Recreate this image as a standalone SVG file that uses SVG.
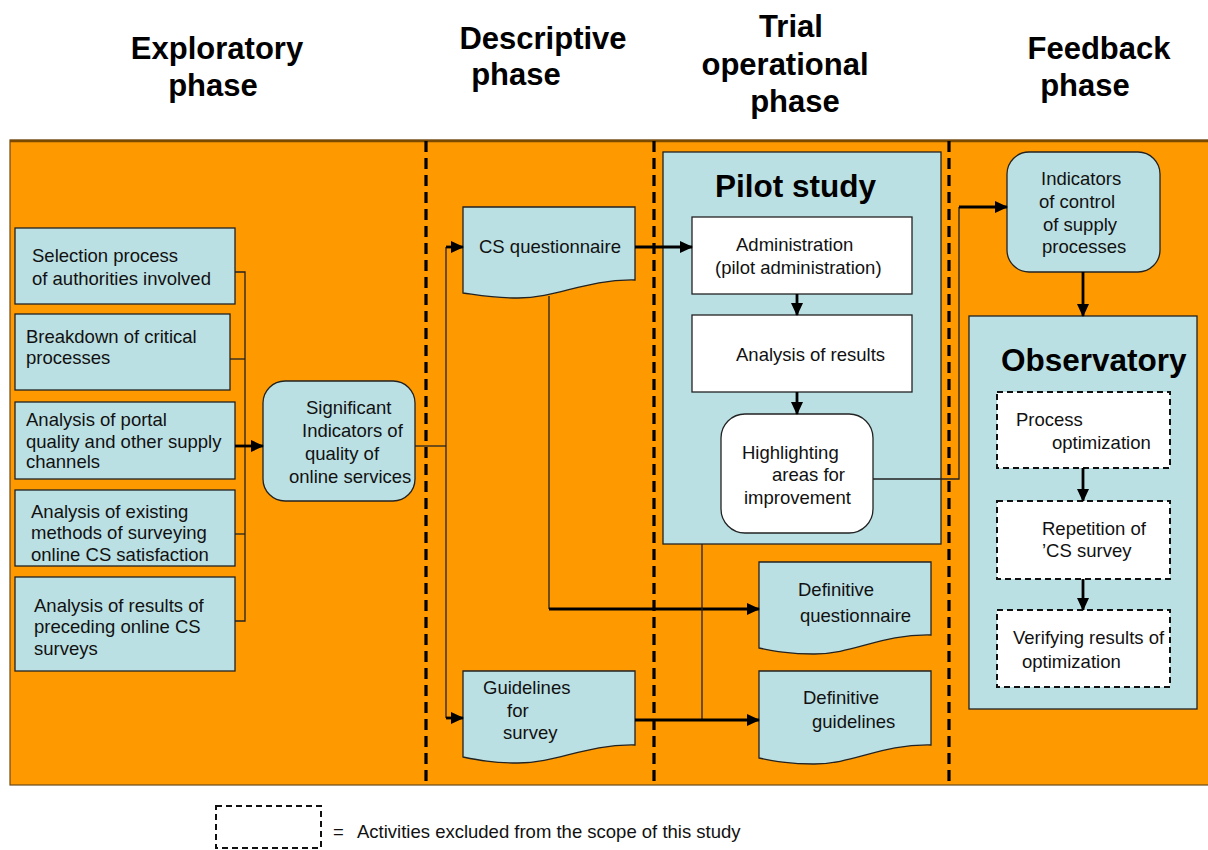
<svg xmlns="http://www.w3.org/2000/svg" width="1208" height="850" viewBox="0 0 1208 850">
<defs>
<marker id="ah" markerUnits="userSpaceOnUse" markerWidth="13" markerHeight="12" refX="12" refY="6" orient="auto">
<path d="M0,0 L13,6 L0,12 z" fill="#000"/>
</marker>
<style>
text{font-family:"Liberation Sans",Arial,sans-serif;fill:#111;}
.h{font-size:31px;font-weight:bold;text-anchor:middle;fill:#000;}
.t{font-size:18.5px;}
.big{font-size:31.5px;font-weight:bold;fill:#000;}
.box{fill:#BBE0E3;stroke:#222;stroke-width:1.3;}
.wbox{fill:#fff;stroke:#222;stroke-width:1.3;}
.dbox{fill:#fff;stroke:#111;stroke-width:2;stroke-dasharray:6 4;}
.phase{stroke:#000;stroke-width:3.2;stroke-dasharray:11 6;fill:none;}
.thin{stroke:#222;stroke-width:1.3;fill:none;}
.thick{stroke:#000;stroke-width:2.8;fill:none;}
.arr{stroke:#000;stroke-width:2.8;fill:none;marker-end:url(#ah);}
</style>
</defs>
<rect width="1208" height="850" fill="#fff"/>

<g id="headings">
<text class="h" x="217" y="59">Exploratory</text>
<text class="h" x="213" y="96">phase</text>
<text class="h" x="543" y="49">Descriptive</text>
<text class="h" x="516" y="85">phase</text>
<text class="h" x="791" y="37">Trial</text>
<text class="h" x="785" y="75">operational</text>
<text class="h" x="795" y="112">phase</text>
<text class="h" x="1099" y="59">Feedback</text>
<text class="h" x="1085" y="96">phase</text>
</g>

<g id="background">
<rect x="10" y="140" width="1200" height="645" fill="#FF9900" stroke="#6b4a1a" stroke-width="1.2"/>
<line x1="10" y1="141" x2="1208" y2="141" stroke="#7a4a00" stroke-width="2.5"/>
<line class="phase" x1="426" y1="141" x2="426" y2="781"/>
<line class="phase" x1="654" y1="141" x2="654" y2="781"/>
<line class="phase" x1="949" y1="141" x2="949" y2="781"/>
</g>

<g id="node-selection">
<rect class="box" x="15" y="228" width="220" height="76"/>
<text class="t" x="32" y="262">Selection process</text>
<text class="t" x="32" y="285">of authorities involved</text>
</g>
<g id="node-breakdown">
<rect class="box" x="15" y="314" width="215" height="76"/>
<text class="t" x="26" y="343">Breakdown of critical</text>
<text class="t" x="26" y="364">processes</text>
</g>
<g id="node-portal">
<rect class="box" x="15" y="402" width="220" height="77"/>
<text class="t" x="26" y="426">Analysis of portal</text>
<text class="t" x="26" y="448">quality and other supply</text>
<text class="t" x="26" y="468">channels</text>
</g>
<g id="node-existing">
<rect class="box" x="15" y="490" width="220" height="76"/>
<text class="t" x="31" y="518">Analysis of existing</text>
<text class="t" x="31" y="539">methods of surveying</text>
<text class="t" x="31" y="561">online CS satisfaction</text>
</g>
<g id="node-preceding">
<rect class="box" x="15" y="577" width="220" height="94"/>
<text class="t" x="34" y="612">Analysis of results of</text>
<text class="t" x="34" y="633">preceding online CS</text>
<text class="t" x="34" y="655">surveys</text>
</g>

<g id="node-significant">
<rect class="box" x="263" y="381" width="152" height="120" rx="22"/>
<text class="t" x="306" y="414">Significant</text>
<text class="t" x="302" y="437">Indicators of</text>
<text class="t" x="305" y="460">quality of</text>
<text class="t" x="289" y="483">online services</text>
</g>

<g id="node-cs-questionnaire">
<path class="box" d="M463,207 H635 V280 C585,279 558,298 518,298 C493,298 478,295 463,293 Z"/>
<text class="t" x="479" y="253">CS questionnaire</text>
</g>
<g id="node-guidelines">
<path class="box" d="M463,671 H635 V745 C585,744 558,763 518,763 C493,763 478,760 463,757 Z"/>
<text class="t" x="483" y="694">Guidelines</text>
<text class="t" x="507" y="717">for</text>
<text class="t" x="503" y="739">survey</text>
</g>

<g id="node-pilot-study">
<rect class="box" x="663" y="152" width="278" height="392"/>
<text class="big" x="715" y="197">Pilot study</text>
</g>
<g id="node-administration">
<rect class="wbox" x="692" y="217" width="220" height="77"/>
<text class="t" x="736" y="251">Administration</text>
<text class="t" x="715" y="274">(pilot administration)</text>
</g>
<g id="node-analysis-results">
<rect class="wbox" x="692" y="315" width="220" height="77"/>
<text class="t" x="736" y="361">Analysis of results</text>
</g>
<g id="node-highlighting">
<rect class="wbox" x="721" y="414" width="152" height="119" rx="24"/>
<text class="t" x="742" y="459">Highlighting</text>
<text class="t" x="772" y="481">areas for</text>
<text class="t" x="744" y="504">improvement</text>
</g>

<g id="node-definitive-questionnaire">
<path class="box" d="M759,562 H931 V635 C881,634 854,654 814,654 C789,654 774,651 759,648 Z"/>
<text class="t" x="798" y="596">Definitive</text>
<text class="t" x="800" y="622">questionnaire</text>
</g>
<g id="node-definitive-guidelines">
<path class="box" d="M759,671 H931 V745 C881,744 854,764 814,764 C789,764 774,761 759,758 Z"/>
<text class="t" x="803" y="704">Definitive</text>
<text class="t" x="812" y="728">guidelines</text>
</g>

<g id="node-indicators-control">
<rect class="box" x="1007" y="152" width="153" height="120" rx="22"/>
<text class="t" x="1041" y="185">Indicators</text>
<text class="t" x="1039" y="208">of control</text>
<text class="t" x="1043" y="231">of supply</text>
<text class="t" x="1042" y="253">processes</text>
</g>
<g id="node-observatory">
<rect class="box" x="969" y="316" width="228" height="393"/>
<text class="big" x="1001" y="371">Observatory</text>
</g>
<g id="node-process-optimization">
<rect class="dbox" x="997" y="392" width="173" height="76"/>
<text class="t" x="1016" y="426">Process</text>
<text class="t" x="1052" y="449">optimization</text>
</g>
<g id="node-repetition">
<rect class="dbox" x="997" y="501" width="173" height="78"/>
<text class="t" x="1042" y="535">Repetition of</text>
<text class="t" x="1042" y="557">’CS survey</text>
</g>
<g id="node-verifying">
<rect class="dbox" x="997" y="610" width="173" height="77"/>
<text class="t" x="1013" y="644">Verifying results of</text>
<text class="t" x="1022" y="668">optimization</text>
</g>

<g id="connectors">
<path class="thin" d="M235,272 H245 V621 H235"/>
<path class="thin" d="M230,359 H245"/>
<path class="thin" d="M235,534 H245"/>
<path class="arr" d="M235,446 H263"/>
<path class="thin" d="M415,446 H446"/>
<path class="thin" d="M446,247 V718"/>
<path class="arr" d="M446,247 H463"/>
<path class="arr" d="M446,718 H463"/>
<path class="arr" d="M635,247 H692"/>
<path class="thin" d="M549,296 V609"/>
<path class="arr" d="M549,609 H759"/>
<path class="arr" d="M797,294 V315"/>
<path class="arr" d="M797,392 V414"/>
<path class="thin" d="M873,479 H959 V207"/>
<path class="arr" d="M959,207 H1007"/>
<path class="thin" d="M702,544 V720"/>
<path class="arr" d="M635,720 H759"/>
<path class="arr" d="M1083,272 V316"/>
<path class="arr" d="M1083,468 V501"/>
<path class="arr" d="M1083,579 V610"/>
</g>

<g id="legend">
<rect x="216" y="806" width="105" height="42" fill="none" stroke="#111" stroke-width="2" stroke-dasharray="6 4"/>
<text class="t" x="333" y="838">=</text>
<text class="t" x="357" y="838">Activities excluded from the scope of this study</text>
</g>
</svg>
